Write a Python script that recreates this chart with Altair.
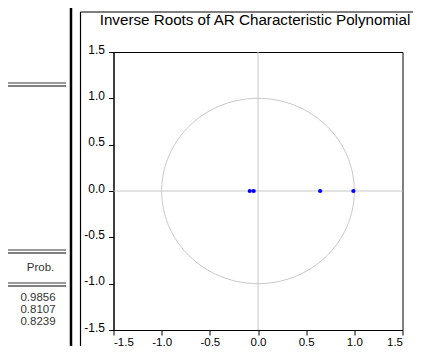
import altair as alt
import pandas as pd

# ---- data ----
root_re = [-0.085, -0.045, 0.645, 0.99]
root_im = [0.0, 0.0, 0.0, 0.0]
tick_vals = [-1.5, -1.0, -0.5, 0.0, 0.5, 1.0, 1.5]
chart_title = "Inverse Roots of AR Characteristic Polynomial"
table_header = "Prob."
table_values = ["0.9856", "0.8107", "0.8239"]

FONT = "Liberation Sans"

xs = alt.Scale(domain=[-1.5, 1.5], nice=False, zero=False)
ys = alt.Scale(domain=[-1.5, 1.5], nice=False, zero=False)
lab = "(datum.value < 0 ? '-' : '') + format(abs(datum.value), '.1f')"
xaxis = alt.Axis(values=tick_vals, labelExpr=lab, grid=False, title=None,
                 tickSize=5, labelPadding=1, labelFontSize=11.5, labelBaseline="top")
yaxis = alt.Axis(values=tick_vals, labelExpr=lab, grid=False, title=None,
                 tickSize=5, labelPadding=4, labelOffset=-3, labelFontSize=12)

def X(f):
    return alt.X(f, scale=xs, axis=xaxis)

def Y(f):
    return alt.Y(f, scale=ys, axis=yaxis)

GRAY = "#c8c8c8"

circle = (
    alt.Chart(alt.sequence(0, 362, 2, as_="deg"))
    .transform_calculate(cx="cos(datum.deg*PI/180)", cy="sin(datum.deg*PI/180)")
    .mark_line(color=GRAY, strokeWidth=1)
    .encode(x=X("cx:Q"), y=Y("cy:Q"), order="deg:Q")
)

zero_df = pd.DataFrame({"z": [0.0]})
vrule = alt.Chart(zero_df).mark_rule(color=GRAY, strokeWidth=1).encode(x=X("z:Q"))
hrule = alt.Chart(zero_df).mark_rule(color=GRAY, strokeWidth=1).encode(y=Y("z:Q"))

roots = pd.DataFrame({"re": root_re, "im": root_im})
pts = (
    alt.Chart(roots)
    .mark_point(filled=True, color="#0000ff", size=18, opacity=1)
    .encode(x=X("re:Q"), y=Y("im:Q"))
)

one = pd.DataFrame({"k": [0]})

def hline(x1, x2, y, color, w):
    return alt.Chart(one).mark_rule(color=color, strokeWidth=w).encode(
        x=alt.value(x1), x2=alt.value(x2), y=alt.value(y))

def vline(x, y1, y2, color, w):
    return alt.Chart(one).mark_rule(color=color, strokeWidth=w).encode(
        x=alt.value(x), y=alt.value(y1), y2=alt.value(y2))

deco = []
# outer window frame around the graph
deco.append(vline(-42.5, -46, 300, "black", 2.5))
deco.append(vline(-33, -40, 300, "black", 1.2))
deco.append(hline(-33, 302, -40, "black", 1.2))
# left table double lines
for yy in [31, 198, 231, 296]:
    deco.append(hline(-114, -47.5, yy, "#7a7a7a", 1.5))
    deco.append(hline(-114, -47.5, yy + 3, "black", 1.1))

texts = []
texts.append(
    alt.Chart(one).mark_text(font=FONT, fontSize=15.2, color="black",
                             baseline="alphabetic", align="center")
    .encode(x=alt.value(141.5), y=alt.value(-27), text=alt.value(chart_title))
)
texts.append(
    alt.Chart(one).mark_text(font=FONT, fontSize=11.5, color="#333333",
                             baseline="middle", align="center")
    .encode(x=alt.value(-73), y=alt.value(216), text=alt.value(table_header))
)
for i, v in enumerate(table_values):
    texts.append(
        alt.Chart(one).mark_text(font=FONT, fontSize=11.5, color="#333333",
                                 baseline="middle", align="center")
        .encode(x=alt.value(-75.5), y=alt.value(246 + i * 12), text=alt.value(v))
    )

chart = (
    alt.layer(circle, vrule, hrule, pts, *deco, *texts)
    .properties(
        width=289, height=278,
        autosize=alt.AutoSizeParams(type="none"),
        padding={"left": 105.5, "top": 44, "right": 10.5, "bottom": 16},
        background="white",
    )
    .configure_view(stroke="black", strokeWidth=1)
    .configure_axis(domainColor="black", tickColor="black", labelColor="black",
                    labelFont=FONT, domainWidth=1, tickWidth=1)
)

chart.save("out.html", embed_options={"renderer": "svg", "actions": False})
